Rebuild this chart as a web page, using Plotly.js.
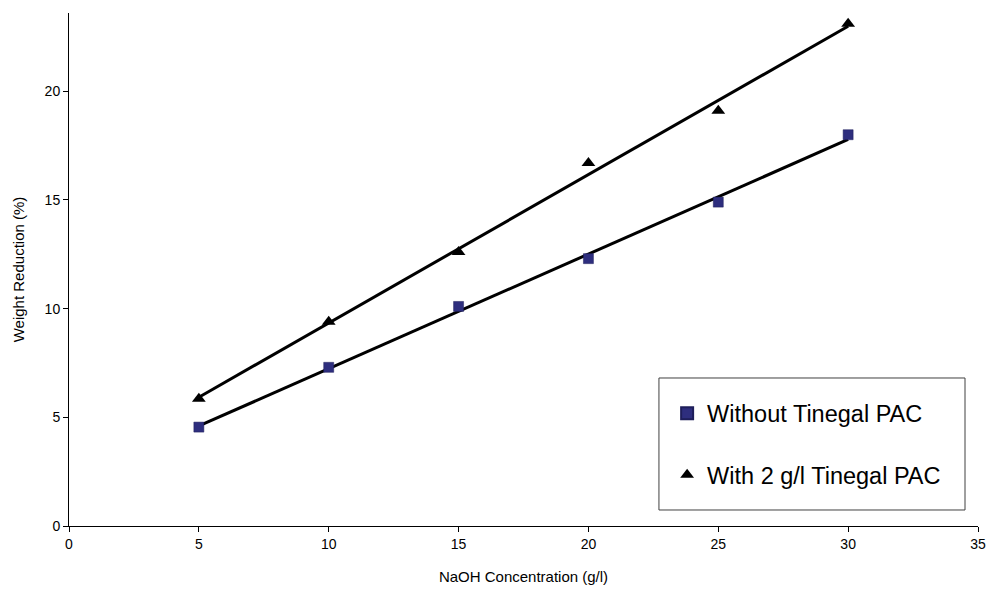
<!DOCTYPE html>
<html>
<head>
<meta charset="utf-8">
<script src="https://cdn.plot.ly/plotly-3.0.1.min.js"></script>
<style>html,body{margin:0;padding:0;background:#fff;}#chart{width:987px;height:590px;}</style>
</head>
<body>
<div id="chart"></div>
<script>
// Data
const naoh = [5, 10, 15, 20, 25, 30];
const withoutPAC = [4.55, 7.3, 10.1, 12.3, 14.9, 18.0];
const withPAC = [5.85, 9.4, 12.6, 16.7, 19.1, 23.1];
const seriesNames = ["Without Tinegal PAC", "With 2 g/l Tinegal PAC"];

// Linear least-squares trendline (as in the original spreadsheet chart)
function trend(x, y) {
  const n = x.length;
  const mx = x.reduce((a, b) => a + b, 0) / n;
  const my = y.reduce((a, b) => a + b, 0) / n;
  let sxy = 0, sxx = 0;
  for (let i = 0; i < n; i++) { sxy += (x[i] - mx) * (y[i] - my); sxx += (x[i] - mx) ** 2; }
  const m = sxy / sxx, c = my - m * mx;
  const xs = [Math.min(...x), Math.max(...x)];
  return { x: xs, y: xs.map(v => m * v + c) };
}
const t1 = trend(naoh, withoutPAC);
const t2 = trend(naoh, withPAC);

const font = "Liberation Sans, Arial, sans-serif";
const traces = [
  { x: t1.x, y: t1.y, mode: "lines", line: { color: "#000", width: 3 }, showlegend: false, hoverinfo: "skip" },
  { x: t2.x, y: t2.y, mode: "lines", line: { color: "#000", width: 3 }, showlegend: false, hoverinfo: "skip" },
  { x: naoh, y: withoutPAC, mode: "markers", name: seriesNames[0], legendgroup: "a",
    marker: { symbol: "square", size: 10, color: "#2e2e7e", line: { color: "#1e1e5a", width: 0.5 } } },
  { x: naoh, y: withPAC, mode: "markers", name: seriesNames[1], legendgroup: "b",
    marker: { symbol: "triangle-up", size: 12, color: "#000" } }
];

const layout = {
  width: 987, height: 590,
  margin: { l: 69, r: 9, t: 13, b: 64 },
  paper_bgcolor: "#fff", plot_bgcolor: "#fff",
  font: { family: font, color: "#000" },
  xaxis: {
    range: [0, 35], dtick: 5, tick0: 0, showgrid: false, zeroline: false,
    showline: true, linecolor: "#000", linewidth: 1,
    ticks: "outside", ticklen: 5, tickcolor: "#000",
    tickfont: { size: 14, family: font },
    title: { text: "NaOH Concentration (g/l)", font: { size: 15, family: font }, standoff: 20 }
  },
  yaxis: {
    range: [0, 23.6], dtick: 5, tick0: 0, showgrid: false, zeroline: false,
    showline: true, linecolor: "#000", linewidth: 1,
    ticks: "outside", ticklen: 5, tickcolor: "#000",
    tickfont: { size: 14, family: font },
    title: { text: "Weight Reduction (%)", font: { size: 15, family: font }, standoff: 16 }
  },
  shapes: [
    { type: "rect", xref: "paper", yref: "paper", x0: 0.649, x1: 0.9857, y0: 0.0312, y1: 0.2885,
      line: { color: "#404040", width: 1 }, fillcolor: "#fff", layer: "above" }
  ],
  legend: {
    x: 0.658, y: 0.1589, xanchor: "left", yanchor: "middle",
    bgcolor: "rgba(0,0,0,0)", borderwidth: 0,
    font: { size: 23.5, family: font, color: "#000" },
    traceorder: "grouped", tracegroupgap: 28,
    itemsizing: "constant"
  },
  showlegend: true
};

Plotly.newPlot("chart", traces, layout, { displayModeBar: false, staticPlot: true });
</script>
</body>
</html>
